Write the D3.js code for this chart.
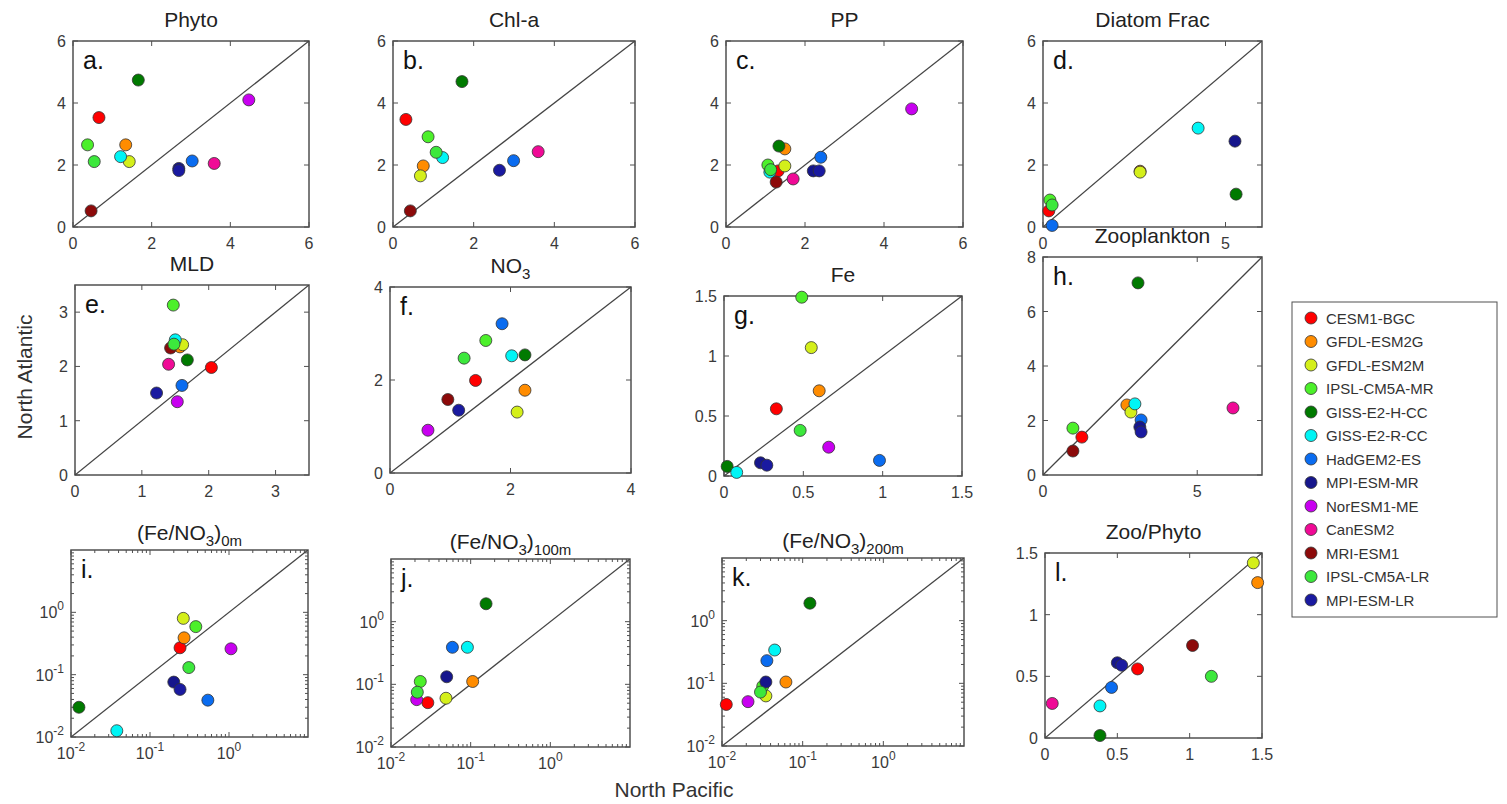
<!DOCTYPE html>
<html>
<head>
<meta charset="utf-8">
<script src="https://cdn.jsdelivr.net/npm/d3@7"></script>
<style>
  body { margin: 0; background: #fff; }
  text { font-family: "Liberation Sans", Arial, Helvetica, sans-serif; }
</style>
</head>
<body>
<svg id="chart" width="1507" height="804"></svg>
<script>
// ---- models and their colours ----
const models = ["CESM1-BGC", "GFDL-ESM2G", "GFDL-ESM2M", "IPSL-CM5A-MR", "GISS-E2-H-CC",
  "GISS-E2-R-CC", "HadGEM2-ES", "MPI-ESM-MR", "NorESM1-ME", "CanESM2", "MRI-ESM1",
  "IPSL-CM5A-LR", "MPI-ESM-LR"];
const modelColors = ["#ff0000", "#ff8c00", "#d4ef1a", "#4cf02a", "#007a00", "#00f5f5",
  "#0a6cf0", "#16168c", "#c800f0", "#f00a96", "#8c0a0a", "#3ce83c", "#1a1aa0"];

// ---- values, one entry per model (null = not available) ----
// North Pacific (x) and North Atlantic (y)
const phytoNP = [0.66, 1.34, 1.43, 0.37, 1.66, 1.21, 3.03, 2.69, 4.47, 3.59, 0.46, 0.54, 2.69];
const phytoNA = [3.53, 2.65, 2.11, 2.65, 4.74, 2.27, 2.13, 1.89, 4.10, 2.05, 0.52, 2.11, 1.82];
const chlNP   = [0.32, 0.75, 0.68, 0.87, 1.71, 1.23, 2.99, null, null, 3.60, 0.43, 1.07, 2.64];
const chlNA   = [3.47, 1.97, 1.65, 2.91, 4.69, 2.24, 2.14, null, null, 2.43, 0.52, 2.41, 1.83];
const ppNP    = [1.32, 1.49, 1.49, 1.06, 1.34, 1.11, 2.40, 2.21, 4.70, 1.70, 1.27, 1.13, 2.36];
const ppNA    = [1.81, 2.52, 1.97, 2.00, 2.61, 1.77, 2.25, 1.81, 3.81, 1.55, 1.45, 1.85, 1.81];
const diatNP  = [0.16, 2.66, 2.66, 0.19, 5.29, 4.25, 0.25, 5.26, null, null, null, 0.25, null];
const diatNA  = [0.52, 1.80, 1.77, 0.87, 1.06, 3.19, 0.05, 2.77, null, null, null, 0.71, null];
const mldNP   = [2.04, 1.57, 1.61, 1.47, 1.68, 1.50, 1.60, null, 1.53, 1.40, 1.43, 1.48, 1.22];
const mldNA   = [1.98, 2.36, 2.40, 3.13, 2.12, 2.49, 1.65, null, 1.35, 2.04, 2.34, 2.41, 1.51];
const no3NP   = [1.42, 2.24, 2.11, 1.59, 2.24, 2.02, 1.86, null, 0.63, null, 0.96, 1.23, 1.14];
const no3NA   = [1.99, 1.78, 1.31, 2.85, 2.54, 2.52, 3.21, null, 0.92, null, 1.58, 2.47, 1.35];
const feNP    = [0.33, 0.60, 0.55, 0.49, 0.02, 0.08, 0.98, 0.23, 0.66, null, null, 0.48, 0.27];
const feNA    = [0.56, 0.71, 1.07, 1.49, 0.08, 0.03, 0.13, 0.11, 0.24, null, null, 0.38, 0.09];
const zooNP   = [1.26, 2.72, 2.85, 0.97, 3.08, 2.98, 3.18, 3.14, null, 6.16, 0.97, null, 3.18];
const zooNA   = [1.39, 2.57, 2.31, 1.72, 7.05, 2.61, 2.02, 1.76, null, 2.46, 0.88, null, 1.58];
const r0NP    = [0.24, 0.27, 0.264, 0.38, 0.0126, 0.038, 0.54, 0.20, 1.06, null, null, 0.31, 0.24];
const r0NA    = [0.27, 0.39, 0.80, 0.59, 0.030, 0.0126, 0.039, 0.076, 0.26, null, null, 0.13, 0.058];
const r100NP  = [0.029, 0.106, 0.049, 0.0233, 0.156, 0.091, 0.059, 0.050, 0.021, null, null, 0.0214, null];
const r100NA  = [0.051, 0.111, 0.060, 0.111, 1.93, 0.39, 0.39, 0.132, 0.057, null, null, 0.075, null];
const r200NP  = [0.0113, 0.062, 0.035, 0.032, 0.123, 0.045, 0.036, 0.035, 0.021, null, null, 0.030, null];
const r200NA  = [0.046, 0.105, 0.063, 0.090, 1.90, 0.34, 0.23, 0.105, 0.051, null, null, 0.0725, null];
const zpNP    = [0.64, 1.47, 1.44, null, 0.38, 0.38, 0.46, 0.50, null, 0.05, 1.02, 1.15, 0.53];
const zpNA    = [0.56, 1.26, 1.42, null, 0.02, 0.26, 0.41, 0.61, null, 0.28, 0.75, 0.50, 0.59];

// ---- tick labels ----
const ticks6 = [0, 2, 4, 6];
const ticksDiatX = [0, 5];
const ticksMld = [0, 1, 2, 3];
const ticksNo3 = [0, 2, 4];
const ticksFe = [0, 0.5, 1, 1.5];
const ticksZooX = [0, 5];
const ticksZooY = [0, 2, 4, 6, 8];
const ticksLog = [0.01, 0.1, 1];

// ---- panel layout ----
const panels = [
  { letter: "a.", title: [["Phyto"]], xs: phytoNP, ys: phytoNA, box: [73, 309, 41, 227],
    xd: [0, 6], yd: [0, 6], xt: ticks6, yt: ticks6 },
  { letter: "b.", title: [["Chl-a"]], xs: chlNP, ys: chlNA, box: [393, 635, 41, 227],
    xd: [0, 6], yd: [0, 6], xt: ticks6, yt: ticks6 },
  { letter: "c.", title: [["PP"]], xs: ppNP, ys: ppNA, box: [726, 963, 41, 227],
    xd: [0, 6], yd: [0, 6], xt: ticks6, yt: ticks6 },
  { letter: "d.", title: [["Diatom Frac"]], xs: diatNP, ys: diatNA, box: [1043, 1262, 41, 227],
    xd: [0, 6], yd: [0, 6], xt: ticksDiatX, yt: ticks6 },
  { letter: "e.", title: [["MLD"]], xs: mldNP, ys: mldNA, box: [75, 309, 285, 475],
    xd: [0, 3.5], yd: [0, 3.5], xt: ticksMld, yt: ticksMld },
  { letter: "f.", title: [["NO"], ["3", "sub"]], xs: no3NP, ys: no3NA, box: [390, 631, 287, 473],
    xd: [0, 4], yd: [0, 4], xt: ticksNo3, yt: ticksNo3 },
  { letter: "g.", title: [["Fe"]], xs: feNP, ys: feNA, box: [724, 962, 296, 476],
    xd: [0, 1.5], yd: [0, 1.5], xt: ticksFe, yt: ticksFe },
  { letter: "h.", title: [["Zooplankton"]], xs: zooNP, ys: zooNA, box: [1043, 1262, 257, 475],
    xd: [0, 7.1], yd: [0, 8], xt: ticksZooX, yt: ticksZooY, corner: true },
  { letter: "i.", title: [["(Fe/NO"], ["3", "sub"], [")"], ["0m", "sub"]], xs: r0NP, ys: r0NA,
    box: [71, 308, 550, 737], log: true, xd: [0.01, 10], yd: [0.01, 10], xt: ticksLog, yt: ticksLog },
  { letter: "j.", title: [["(Fe/NO"], ["3", "sub"], [")"], ["100m", "sub"]], xs: r100NP, ys: r100NA,
    box: [391, 630, 559, 747], log: true, xd: [0.01, 10], yd: [0.01, 10], xt: ticksLog, yt: ticksLog },
  { letter: "k.", title: [["(Fe/NO"], ["3", "sub"], [")"], ["200m", "sub"]], xs: r200NP, ys: r200NA,
    box: [722, 964, 558, 746], log: true, xd: [0.01, 10], yd: [0.01, 10], xt: ticksLog, yt: ticksLog },
  { letter: "l.", title: [["Zoo/Phyto"]], xs: zpNP, ys: zpNA, box: [1045, 1262, 553, 738],
    xd: [0, 1.5], yd: [0, 1.5], xt: ticksFe, yt: ticksFe },
];

const svg = d3.select("#chart");
const AX = "#505050";
const LBL = "#3a3a3a";

function drawTitle(g, cx, y, segs) {
  const t = g.append("text").attr("x", cx).attr("y", y).attr("text-anchor", "middle")
    .attr("font-size", 21).attr("fill", "#222");
  let down = false;
  segs.forEach(([s, kind]) => {
    const ts = t.append("tspan").text(s);
    if (kind === "sub") {
      ts.attr("font-size", 15);
      if (!down) { ts.attr("dy", 6); down = true; }
    } else if (down) {
      ts.attr("dy", -6); down = false;
    }
  });
}

function logLabel(sel, v) {
  const e = Math.round(Math.log10(v));
  sel.append("tspan").text("10");
  sel.append("tspan").text(String(e)).attr("font-size", 12).attr("dy", -8);
}

panels.forEach((p, pi) => {
  const [x0, x1, y0, y1] = p.box;
  const g = svg.append("g");
  const xs = (p.log ? d3.scaleLog() : d3.scaleLinear()).domain(p.xd).range([x0, x1]);
  const ys = (p.log ? d3.scaleLog() : d3.scaleLinear()).domain(p.yd).range([y1, y0]);
  const clipId = "clip" + pi;
  g.append("clipPath").attr("id", clipId).append("rect")
    .attr("x", x0).attr("y", y0).attr("width", x1 - x0).attr("height", y1 - y0);

  // frame
  g.append("rect").attr("x", x0).attr("y", y0).attr("width", x1 - x0).attr("height", y1 - y0)
    .attr("fill", "none").attr("stroke", AX).attr("stroke-width", 1.5);

  // ticks on all four sides (inward)
  const tk = g.append("g").attr("stroke", AX).attr("stroke-width", 1);
  const major = 5, minor = 3;
  function xTick(v, len) {
    const x = xs(v);
    tk.append("line").attr("x1", x).attr("x2", x).attr("y1", y1).attr("y2", y1 - len);
    tk.append("line").attr("x1", x).attr("x2", x).attr("y1", y0).attr("y2", y0 + len);
  }
  function yTick(v, len) {
    const y = ys(v);
    tk.append("line").attr("y1", y).attr("y2", y).attr("x1", x0).attr("x2", x0 + len);
    tk.append("line").attr("y1", y).attr("y2", y).attr("x1", x1).attr("x2", x1 - len);
  }
  p.xt.forEach(v => xTick(v, major));
  p.yt.forEach(v => yTick(v, major));
  if (p.log) {
    for (let e = -2; e < 1; e++) {
      for (let m = 2; m <= 9; m++) {
        const v = m * Math.pow(10, e);
        xTick(v, minor); yTick(v, minor);
      }
    }
  }

  // tick labels
  const fmt = d3.format("~g");
  p.xt.forEach(v => {
    const t = g.append("text").attr("x", xs(v)).attr("y", y1 + 22).attr("text-anchor", "middle")
      .attr("font-size", 16).attr("fill", LBL);
    if (p.log) logLabel(t, v); else t.text(fmt(v));
  });
  p.yt.forEach(v => {
    const t = g.append("text").attr("x", x0 - 7).attr("y", ys(v) + 6).attr("text-anchor", "end")
      .attr("font-size", 16).attr("fill", LBL);
    if (p.log) logLabel(t, v); else t.text(fmt(v));
  });

  // 1:1 reference line (corner to corner when the axes differ)
  const lo = Math.max(p.xd[0], p.yd[0]), hi = Math.min(p.xd[1], p.yd[1]);
  const line = p.corner ? [xs(p.xd[0]), ys(p.yd[0]), xs(p.xd[1]), ys(p.yd[1])]
                        : [xs(lo), ys(lo), xs(hi), ys(hi)];
  g.append("line").attr("clip-path", `url(#${clipId})`)
    .attr("x1", line[0]).attr("y1", line[1]).attr("x2", line[2]).attr("y2", line[3])
    .attr("stroke", "#444").attr("stroke-width", 1.3);

  // title and panel letter
  drawTitle(g, (x0 + x1) / 2, y0 - (p.log ? 10 : 14), p.title);
  g.append("text").attr("x", x0 + 10).attr("y", y0 + 28).attr("font-size", 25).attr("fill", "#111")
    .text(p.letter);

  // model points
  const pts = models.map((m, i) => ({ m, c: modelColors[i], x: p.xs[i], y: p.ys[i] }))
    .filter(d => d.x != null && d.y != null);
  g.append("g").selectAll("circle").data(pts).join("circle")
    .attr("cx", d => xs(d.x)).attr("cy", d => ys(d.y)).attr("r", 6)
    .attr("fill", d => d.c).attr("stroke", "#333").attr("stroke-width", 0.8);
});

// shared axis titles
svg.append("text").attr("transform", "translate(32,377) rotate(-90)").attr("text-anchor", "middle")
  .attr("font-size", 21).attr("fill", "#333").text("North Atlantic");
svg.append("text").attr("x", 674).attr("y", 797).attr("text-anchor", "middle")
  .attr("font-size", 21).attr("fill", "#333").text("North Pacific");

// legend
const lg = svg.append("g");
const lgX = 1292, lgY = 302, lgW = 205, lgH = 315, step = 23.5;
lg.append("rect").attr("x", lgX).attr("y", lgY).attr("width", lgW).attr("height", lgH)
  .attr("fill", "#fff").attr("stroke", AX).attr("stroke-width", 1);
const rows = lg.selectAll("g.row").data(models).join("g").attr("class", "row")
  .attr("transform", (d, i) => `translate(${lgX + 19},${lgY + 16 + i * step})`);
rows.append("circle").attr("r", 6).attr("fill", (d, i) => modelColors[i])
  .attr("stroke", "#333").attr("stroke-width", 0.8);
rows.append("text").attr("x", 15).attr("y", 5.5).attr("font-size", 15).attr("fill", "#333")
  .text(d => d);
</script>
</body>
</html>
